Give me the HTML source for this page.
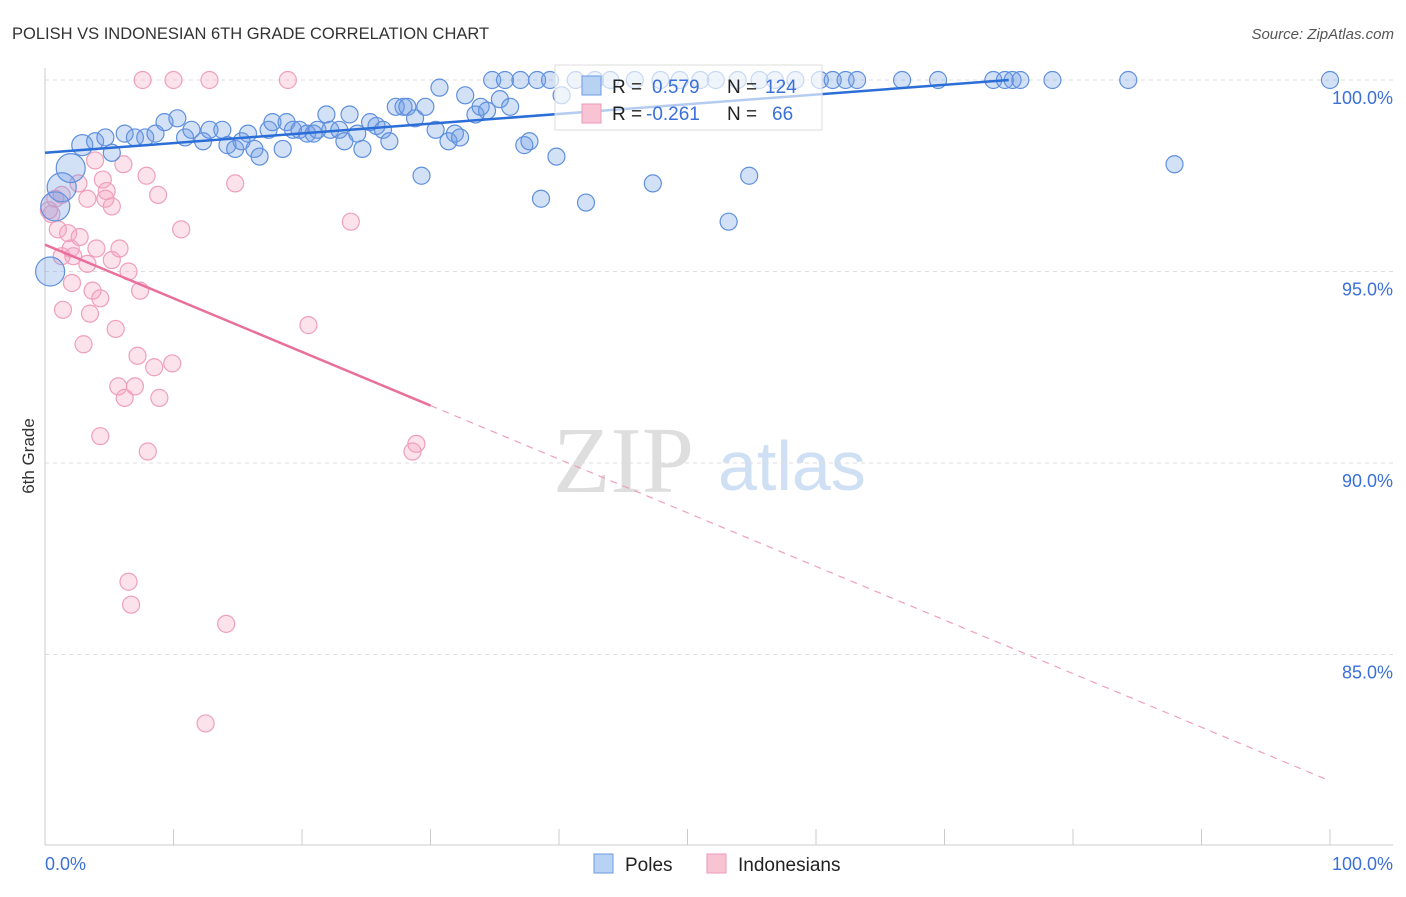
<!DOCTYPE html>
<html><head><meta charset="utf-8"><style>
body{margin:0;background:#fff;font-family:"Liberation Sans",sans-serif;}
svg text{font-family:"Liberation Sans",sans-serif;}
</style></head><body>
<svg id="chart" width="1406" height="892" viewBox="0 0 1406 892">
<text x="12" y="39" font-size="16.5" fill="#333">POLISH VS INDONESIAN 6TH GRADE CORRELATION CHART</text>
<text x="1394" y="39" font-size="15" fill="#555" font-style="italic" text-anchor="end">Source: ZipAtlas.com</text>
<g>
<text x="553" y="492" font-size="94" fill="#dedede" font-family="Liberation Serif" style="font-family:'Liberation Serif',serif">ZIP</text>
<text x="718" y="490" font-size="70" fill="#cfdff4">atlas</text>
</g>
<g id="grid"></g>
<g id="axes"></g>
<g id="marks"></g>
<text transform="translate(34,456) rotate(-90)" font-size="17" fill="#333" text-anchor="middle">6th Grade</text>
<g>
<rect x="555" y="65" width="267" height="65" fill="#fff" fill-opacity="0.65" stroke="#ddd"/>
<rect x="582" y="76" width="19" height="19" fill="#b8d2f4" stroke="#6c9be2"/>
<rect x="582" y="104" width="19" height="19" fill="#f8c4d4" stroke="#ee9ab8"/>
<text x="612" y="93" font-size="19" fill="#222">R = </text><text x="652" y="93" font-size="19" fill="#3a70d8">0.579</text>
<text x="727" y="93" font-size="19" fill="#222">N = </text><text x="765" y="93" font-size="19" fill="#3a70d8">124</text>
<text x="612" y="120" font-size="19" fill="#222">R = </text><text x="646" y="120" font-size="19" fill="#3a70d8">-0.261</text>
<text x="727" y="120" font-size="19" fill="#222">N = </text><text x="772" y="120" font-size="19" fill="#3a70d8">66</text>
</g>
<g>
<rect x="594" y="854" width="19" height="19" fill="#b8d2f4" stroke="#6c9be2"/>
<text x="625" y="871" font-size="19" fill="#222">Poles</text>
<rect x="707" y="854" width="19" height="19" fill="#f8c4d4" stroke="#ee9ab8"/>
<text x="738" y="871" font-size="19" fill="#222">Indonesians</text>
</g>
</svg>
<script>
const yTicks=[100,95,90,85];
const yTickLabels=["100.0%","95.0%","90.0%","85.0%"];
const xEndLabels=["0.0%","100.0%"];
const polesX=[0.4,0.8,1.3,2.0,2.9,3.9,4.7,5.2,6.2,7.0,7.8,8.6,9.3,10.3,10.9,11.4,12.3,12.8,13.8,14.2,14.8,15.3,15.8,16.3,16.7,17.4,17.7,18.5,18.8,19.3,19.8,20.4,20.9,21.2,21.9,22.2,22.9,23.3,23.7,24.3,24.7,25.3,25.8,26.3,26.8,27.3,27.9,28.2,28.8,29.3,29.6,30.4,30.7,31.4,31.9,32.3,32.7,33.5,33.9,34.4,34.8,35.4,35.8,36.2,37.0,37.3,37.7,38.3,38.6,39.3,39.8,40.2,41.3,42.1,42.8,44.0,45.9,47.3,47.9,49.4,51.0,52.2,53.2,53.9,54.8,55.6,56.8,58.4,60.3,61.3,62.3,63.2,66.7,69.5,73.8,74.7,75.3,75.9,78.4,84.3,87.9,100];
const polesY=[95.0,96.7,97.2,97.7,98.3,98.4,98.5,98.1,98.6,98.5,98.5,98.6,98.9,99.0,98.5,98.7,98.4,98.7,98.7,98.3,98.2,98.4,98.6,98.2,98.0,98.7,98.9,98.2,98.9,98.7,98.7,98.6,98.6,98.7,99.1,98.7,98.7,98.4,99.1,98.6,98.2,98.9,98.8,98.7,98.4,99.3,99.3,99.3,99.0,97.5,99.3,98.7,99.8,98.4,98.6,98.5,99.6,99.1,99.3,99.2,100,99.5,100,99.3,100,98.3,98.4,100,96.9,100,98.0,99.6,100,96.8,100,100,100,97.3,100,100,100,100,96.3,100,97.5,100,100,100,100,100,100,100,100,100,100,100,100,100,100,100,97.8,100];
const polesR=[15,15,15,15,11,9,9,9,9,9,9,9,9,9,9,9,9,9,9,9,9,9,9,9,9,9,9,9,9,9,9,9,9,9,9,9,9,9,9,9,9,9,9,9,9,9,9,9,9,9,9,9,9,9,9,9,9,9,9,9,9,9,9,9,9,9,9,9,9,9,9,9,9,9,9,9,9,9,9,9,9,9,9,9,9,9,9,9,9,9,9,9,9,9,9,9,9,9,9,9,9,9];
const indoX=[7.6,10.0,12.8,18.9,0.5,0.8,1.0,1.3,1.8,2.0,2.2,2.6,2.7,3.3,3.3,3.5,3.7,3.9,4.0,4.3,4.5,4.7,4.8,5.2,5.2,5.5,5.8,6.1,6.5,7.2,7.4,7.9,8.8,5.7,6.2,7.0,8.5,8.9,9.9,10.6,14.8,20.5,23.8,4.3,8.0,28.6,28.9,6.5,6.7,14.1,12.5,1.4,3.0,2.1,1.3,0.3];
const indoY=[100,100,100,100,96.5,96.9,96.1,97.0,96.0,95.6,95.4,97.3,95.9,96.9,95.2,93.9,94.5,97.9,95.6,94.3,97.4,96.9,97.1,96.7,95.3,93.5,95.6,97.8,95.0,92.8,94.5,97.5,97.0,92.0,91.7,92.0,92.5,91.7,92.6,96.1,97.3,93.6,96.3,90.7,90.3,90.3,90.5,86.9,86.3,85.8,83.2,94.0,93.1,94.7,95.4,96.6];
const polesTrend=[0,98.1,75,100];
const indoTrend=[0,95.7,30,91.5,100,81.7];
const X0=45,X1=1330,yTop=80,pxPerPct=38.3;
const sx=v=>X0+(X1-X0)*v/100, sy=v=>yTop+(100-v)*pxPerPct;
const NS="http://www.w3.org/2000/svg";
function mk(tag,attrs,parent){const e=document.createElementNS(NS,tag);for(const k in attrs)e.setAttribute(k,attrs[k]);parent.appendChild(e);return e;}
const grid=document.getElementById('grid'),axes=document.getElementById('axes'),marks=document.getElementById('marks');
yTicks.forEach((t,i)=>{
 const l=mk('line',{x1:45,x2:1393,y1:sy(t),y2:sy(t),stroke:'#ddd','stroke-dasharray':'4,4'},grid);
 
 
 const tx=mk('text',{x:1393,y:sy(t)+24,'font-size':18,fill:'#3a70d8','text-anchor':'end'},axes);
 tx.textContent=yTickLabels[i];
 
 
});
const ax=mk('line',{x1:45,x2:45,y1:68,y2:845,stroke:'#ccc'},axes);


const bx=mk('line',{x1:45,x2:1393,y1:845,y2:845,stroke:'#ccc'},axes);


for(let i=0;i<=10;i++){const t=mk('line',{x1:sx(i*10),x2:sx(i*10),y1:829,y2:845,stroke:'#ccc'},axes);
 
 }
[[45,'start',0],[1393,'end',1]].forEach(([x,a,i])=>{const t=mk('text',{x:x,y:870,'font-size':18,fill:'#3a70d8','text-anchor':a},axes);t.textContent=xEndLabels[i];
 
 });
indoX.forEach((v,i)=>{const c=mk('circle',{cx:sx(v),cy:sy(indoY[i]),r:8.5,fill:'rgba(244,160,190,0.3)',stroke:'#ef9fbc','stroke-width':1.2},marks);
 
 });
polesX.forEach((v,i)=>{const c=mk('circle',{cx:sx(v),cy:sy(polesY[i]),r:polesR[i]-0.5,fill:'rgba(110,155,230,0.3)',stroke:'#5f90de','stroke-width':1.2},marks);
 
 });
const pt=mk('line',{x1:sx(polesTrend[0]),y1:sy(polesTrend[1]),x2:sx(polesTrend[2]),y2:sy(polesTrend[3]),stroke:'#2c6ed8','stroke-width':2.5},marks);


const it=mk('line',{x1:sx(indoTrend[0]),y1:sy(indoTrend[1]),x2:sx(indoTrend[2]),y2:sy(indoTrend[3]),stroke:'#e8709a','stroke-width':2.5},marks);


const id=mk('line',{x1:sx(indoTrend[2]),y1:sy(indoTrend[3]),x2:sx(indoTrend[4]),y2:sy(indoTrend[5]),stroke:'#ef9fbc','stroke-width':1.2,'stroke-dasharray':'7,6'},marks);


</script>
</body></html>
